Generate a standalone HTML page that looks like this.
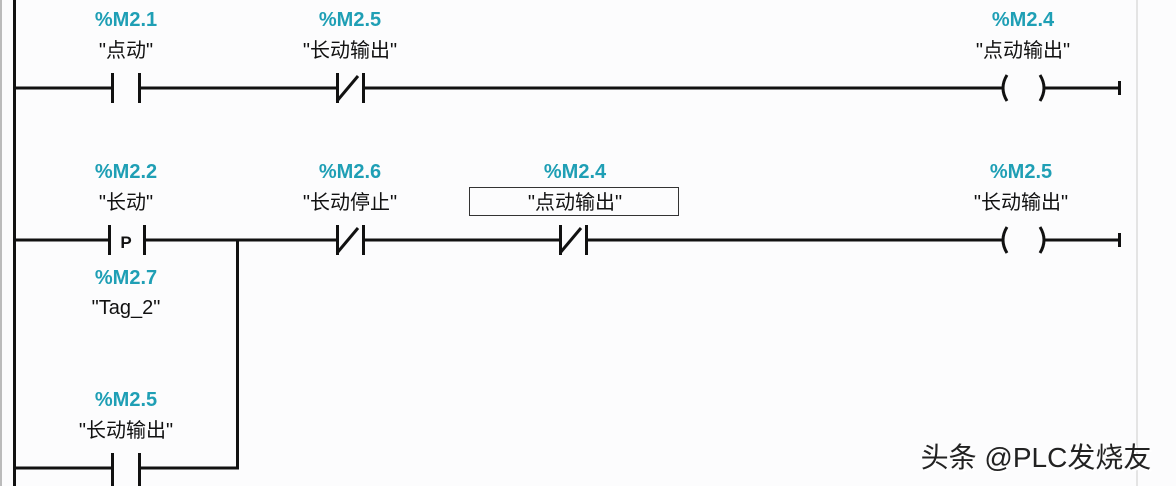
<!DOCTYPE html>
<html><head><meta charset="utf-8"><style>
html,body{margin:0;padding:0;background:#fcfcfd;}
svg{display:block}
.a{font-family:"Liberation Sans",sans-serif;font-weight:bold;font-size:20px;fill:#1f9fb5;text-anchor:middle}
.n{font-family:"Liberation Sans","Noto Sans CJK SC",sans-serif;font-size:20px;fill:#111;text-anchor:middle}
.w{font-family:"Liberation Sans","Noto Sans CJK SC",sans-serif;font-size:28px;text-anchor:middle}
</style></head><body>
<svg width="1176" height="486" viewBox="0 0 1176 486">
<rect width="1176" height="486" fill="#fcfcfd"/>
<line x1="1" y1="0" x2="1" y2="486" stroke="#bbb" stroke-width="2"/>
<line x1="1137" y1="0" x2="1137" y2="486" stroke="#ccc" stroke-width="1"/>
<g stroke="#111" stroke-width="3" fill="none">
<line x1="14.5" y1="0" x2="14.5" y2="486"/>
<line x1="14" y1="88" x2="112" y2="88"/>
<line x1="112.5" y1="73" x2="112.5" y2="103"/>
<line x1="139.5" y1="73" x2="139.5" y2="103"/>
<line x1="139" y1="88" x2="337" y2="88"/>
<line x1="337.5" y1="73" x2="337.5" y2="103"/>
<line x1="337" y1="101" x2="358" y2="76"/>
<line x1="363.5" y1="73" x2="363.5" y2="103"/>
<line x1="363" y1="88" x2="1003" y2="88"/>
<path d="M1007 75 Q999 88 1007 101"/>
<path d="M1040 75 Q1048 88 1040 101"/>
<line x1="1045" y1="88" x2="1119" y2="88"/>
<line x1="1119.5" y1="81" x2="1119.5" y2="95"/>
<line x1="14" y1="240" x2="109" y2="240"/>
<line x1="109.5" y1="225" x2="109.5" y2="255"/>
<line x1="144.5" y1="225" x2="144.5" y2="255"/>
<line x1="144" y1="240" x2="337" y2="240"/>
<line x1="237.5" y1="240" x2="237.5" y2="469"/>
<line x1="337.5" y1="225" x2="337.5" y2="255"/>
<line x1="337" y1="253" x2="358" y2="228"/>
<line x1="363.5" y1="225" x2="363.5" y2="255"/>
<line x1="363" y1="240" x2="560" y2="240"/>
<line x1="560.5" y1="225" x2="560.5" y2="255"/>
<line x1="560" y1="253" x2="581" y2="228"/>
<line x1="586.5" y1="225" x2="586.5" y2="255"/>
<line x1="586" y1="240" x2="1003" y2="240"/>
<path d="M1007 227 Q999 240 1007 253"/>
<path d="M1040 227 Q1048 240 1040 253"/>
<line x1="1045" y1="240" x2="1119" y2="240"/>
<line x1="1119.5" y1="233" x2="1119.5" y2="247"/>
<line x1="14" y1="468" x2="112" y2="468"/>
<line x1="112.5" y1="453" x2="112.5" y2="486"/>
<line x1="139.5" y1="453" x2="139.5" y2="486"/>
<line x1="139" y1="468" x2="239" y2="468"/>
</g>
<text x="126" y="248" font-family="Liberation Sans" font-weight="bold" font-size="17" fill="#111" text-anchor="middle">P</text>
<rect x="469.5" y="187.5" width="209" height="28" fill="none" stroke="#333" stroke-width="1"/>
<text class="a" x="126" y="26">%M2.1</text><text class="n" x="126" y="57">"点动"</text>
<text class="a" x="350" y="26">%M2.5</text><text class="n" x="350" y="57">"长动输出"</text>
<text class="a" x="1023" y="26">%M2.4</text><text class="n" x="1023" y="57">"点动输出"</text>
<text class="a" x="126" y="178">%M2.2</text><text class="n" x="126" y="209">"长动"</text>
<text class="a" x="350" y="178">%M2.6</text><text class="n" x="350" y="209">"长动停止"</text>
<text class="a" x="575" y="178">%M2.4</text><text class="n" x="575" y="209">"点动输出"</text>
<text class="a" x="1021" y="178">%M2.5</text><text class="n" x="1021" y="209">"长动输出"</text>
<text class="a" x="126" y="284">%M2.7</text><text class="n" x="126" y="314">"Tag_2"</text>
<text class="a" x="126" y="406">%M2.5</text><text class="n" x="126" y="437">"长动输出"</text>
<text class="w" x="1038" y="469" fill="#fff">头条 @PLC发烧友</text>
<text class="w" x="1036" y="467" fill="#222">头条 @PLC发烧友</text>
</svg>
</body></html>
